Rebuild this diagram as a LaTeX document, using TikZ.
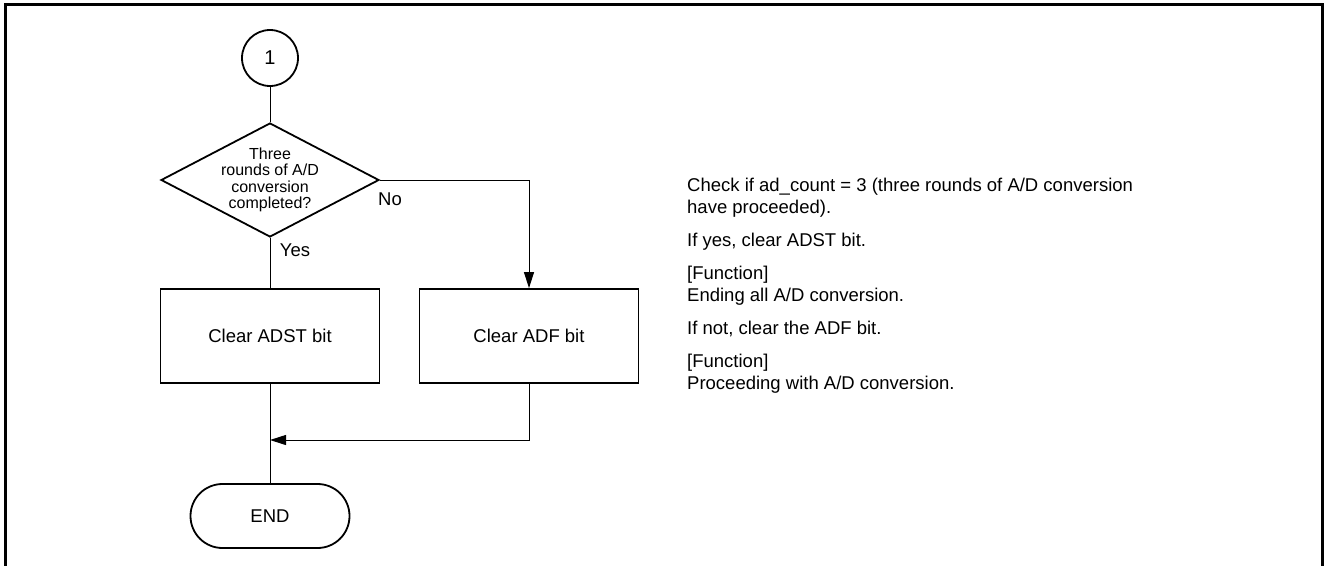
\documentclass[tikz,border=0pt]{standalone}
\usepackage{fontspec}
\setmainfont{Liberation Sans}
\usetikzlibrary{%
  arrows.meta,%
  shapes.geometric,%
  shapes.misc%
}

\begin{document}
\begin{tikzpicture}[x=1pt,y=-1pt,
  font=\fontsize{18.5}{22}\selectfont,
  shapeline/.style={draw, line width=1.8pt, inner sep=0pt},
  procbox/.style={shapeline, minimum width=219pt, minimum height=94pt},
  flow/.style={draw, line width=1pt},
  flowarrow/.style={flow, -{Triangle[length=16pt,width=10pt]}}]

  \useasboundingbox (0,0) rectangle (1324,565);
  \draw[line width=3pt] (5,566) -- (5,4) -- (1322.5,4) -- (1322.5,566);

  \node[shapeline, circle, minimum size=56pt, font=\fontsize{20}{22}\selectfont] (start) at (270,58) {1};
  \node[shapeline, diamond, minimum width=218pt, minimum height=114pt] (check) at (270,180) {};
  \node[align=center, font=\fontsize{16}{16.5}\selectfont] (checktext) at (check.center)
    {Three\\rounds of A/D\\conversion\\completed?};

  \node[procbox] (adst) at (270,336) {Clear ADST bit};
  \node[procbox] (adf) at (529,336) {Clear ADF bit};
  \node[shapeline, rounded rectangle, minimum width=159pt, minimum height=64pt] (finish) at (270,516) {END};
  \coordinate (merge) at (270,440);

  \node (no) at (390,199) {No};
  \node (yes) at (295,250) {Yes};

  \draw[flow] (start) -- (check);
  \draw[flowarrow] (check.east) -| (adf.north);
  \draw[flow] (check.south) -- (adst.north);
  \draw[flow] (adst.south) -- (finish.north);
  \draw[flowarrow] (adf.south) |- (merge);

  \node[anchor=north west, inner sep=0pt, align=left] (notes) at (687,178)
    {Check if ad\_count = 3 (three rounds of A/D conversion\\
     have proceeded).\\[11pt]
     If yes, clear ADST bit.\\[11pt]
     [Function]\\
     Ending all A/D conversion.\\[11pt]
     If not, clear the ADF bit.\\[11pt]
     [Function]\\
     Proceeding with A/D conversion.};
\end{tikzpicture}
\end{document}
